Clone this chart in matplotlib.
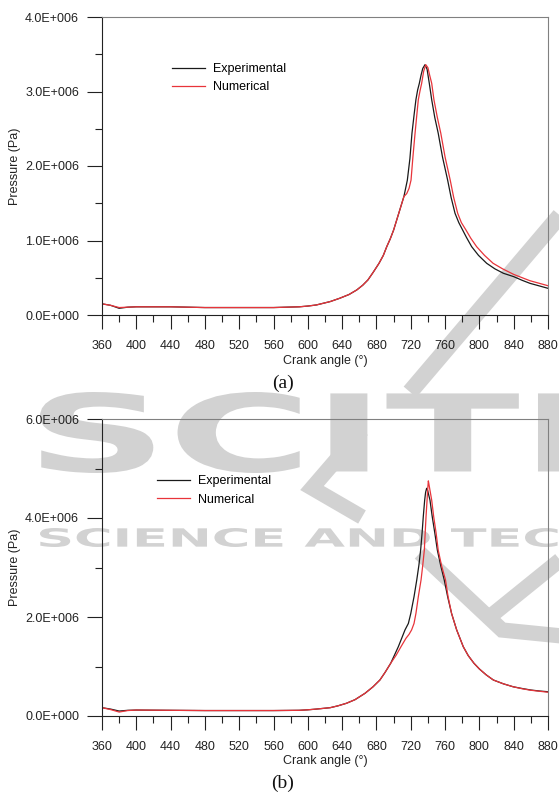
import numpy as np
import matplotlib
matplotlib.use('Agg')
import matplotlib.pyplot as plt
from matplotlib.ticker import MultipleLocator, FuncFormatter
from matplotlib.textpath import TextPath
from matplotlib.font_manager import FontProperties
from matplotlib.patches import PathPatch
from matplotlib.transforms import Affine2D
from matplotlib.lines import Line2D

# cylinder pressure (MPa) against crank angle (deg), case (a)
ang_a_exp = [360, 370, 380, 390, 400, 440, 480, 520, 560, 590, 600, 610, 626, 637, 648,
             657, 664, 670, 676, 683, 688, 692, 696, 700, 706, 712, 716, 719, 721.4, 724,
             726, 728, 730, 732, 734, 736.6, 739, 741.6, 744.4, 748, 752, 757, 763, 767,
             771.6, 776, 780.5, 785, 791, 799, 808.5, 818, 828, 840, 850, 859, 870, 880]
p_a_exp = [0.15, 0.13, 0.09, 0.105, 0.11, 0.11, 0.10, 0.10, 0.10, 0.11, 0.12, 0.135, 0.18,
           0.224, 0.275, 0.336, 0.40, 0.47, 0.57, 0.694, 0.80, 0.917, 1.02, 1.14, 1.365,
           1.59, 1.81, 2.10, 2.44, 2.70, 2.89, 3.02, 3.11, 3.22, 3.31, 3.36, 3.30, 3.11,
           2.89, 2.65, 2.44, 2.12, 1.81, 1.58, 1.365, 1.24, 1.14, 1.04, 0.917, 0.80, 0.694,
           0.62, 0.56, 0.515, 0.465, 0.425, 0.39, 0.358]
ang_a_num = [360, 370, 380, 390, 400, 440, 480, 520, 560, 590, 600, 610, 626, 637, 648,
             657, 664, 670, 676, 683, 688, 692, 696, 700, 706, 712, 715.3, 718, 720.3,
             722.5, 725, 727, 728.8, 730.8, 732.7, 735, 737.5, 740, 742, 744.4, 747, 751,
             755, 760, 766, 770, 774.7, 779, 784.4, 790, 796.8, 806, 816, 827, 840, 850,
             859, 870, 880]
p_a_num = [0.15, 0.13, 0.10, 0.105, 0.11, 0.11, 0.10, 0.10, 0.10, 0.11, 0.12, 0.135, 0.18,
           0.224, 0.275, 0.336, 0.40, 0.47, 0.57, 0.694, 0.80, 0.917, 1.02, 1.14, 1.365,
           1.59, 1.63, 1.70, 1.81, 2.12, 2.44, 2.68, 2.89, 3.01, 3.11, 3.27, 3.36, 3.32,
           3.22, 3.11, 2.89, 2.65, 2.44, 2.12, 1.81, 1.58, 1.365, 1.24, 1.14, 1.03, 0.917,
           0.80, 0.694, 0.62, 0.545, 0.50, 0.46, 0.425, 0.393]

# case (b)
ang_b_exp = [360, 370, 380, 390, 400, 440, 480, 520, 560, 590, 600, 610, 626, 635, 645,
             655, 666.6, 676, 684, 690, 696.6, 701, 705.5, 709.4, 713.3, 717.2, 720, 722,
             723.8, 727, 729.5, 731.5, 733.2, 734.6, 736.2, 737.3, 738.5, 739.8, 741,
             742.4, 745, 748, 751, 755, 759, 763, 767.6, 773.5, 781.2, 787, 793.7, 800,
             808, 816.3, 828, 839.5, 850, 860, 870, 880]
p_b_exp = [0.168, 0.14, 0.10, 0.115, 0.12, 0.115, 0.11, 0.11, 0.11, 0.115, 0.125, 0.14,
           0.168, 0.205, 0.257, 0.33, 0.458, 0.59, 0.727, 0.88, 1.065, 1.23, 1.40, 1.57,
           1.74, 1.87, 2.07, 2.25, 2.41, 2.75, 3.05, 3.35, 3.70, 4.03, 4.36, 4.52, 4.60,
           4.55, 4.46, 4.36, 4.03, 3.70, 3.35, 3.03, 2.75, 2.41, 2.07, 1.74, 1.40, 1.22,
           1.065, 0.95, 0.83, 0.727, 0.65, 0.59, 0.555, 0.525, 0.505, 0.49]
ang_b_num = [360, 370, 380, 390, 400, 440, 480, 520, 560, 590, 600, 610, 626, 635, 645,
             655, 666.6, 676, 684, 690, 696.6, 703, 708.6, 714.4, 718, 721, 723.8, 726,
             727.5, 728.8, 732, 734, 735.8, 736.8, 737.8, 739, 739.8, 740.5, 741.2, 742,
             744.4, 746.7, 749.5, 752, 756, 760.5, 763.5, 767.6, 773.5, 781.2, 787, 793.7,
             800, 808, 816.3, 828, 839.5, 850, 860, 870, 880]
p_b_num = [0.168, 0.13, 0.08, 0.11, 0.12, 0.115, 0.11, 0.11, 0.11, 0.115, 0.125, 0.14,
           0.168, 0.205, 0.257, 0.33, 0.458, 0.59, 0.727, 0.88, 1.065, 1.23, 1.40, 1.57,
           1.65, 1.74, 1.87, 2.07, 2.25, 2.41, 2.75, 3.05, 3.35, 3.70, 4.03, 4.36, 4.60,
           4.75, 4.68, 4.60, 4.36, 4.03, 3.70, 3.35, 3.03, 2.75, 2.41, 2.07, 1.74, 1.40,
           1.22, 1.065, 0.95, 0.83, 0.727, 0.65, 0.59, 0.55, 0.52, 0.50, 0.48]

series_names = ['Experimental', 'Numerical']
panel_tags = ['(a)', '(b)']
x_ticks = list(range(360, 881, 40))

W, H = 559, 796
sans = 'Liberation Sans'
fig = plt.figure(figsize=(W / 100, H / 100), dpi=100)

def px(x, y):                       # pixel position -> figure fraction
    return x / W, 1 - y / H

# faint publisher stamp behind the plots
grey = '#d2d2d2'
def stamp(txt, x0, x1, ytop, ybot, weight):
    tp = TextPath((0, 0), txt, size=1, prop=FontProperties(family='DejaVu Sans', weight=weight))
    bb = tp.get_extents()
    tr = (Affine2D().translate(-bb.x0, -bb.y0)
          .scale((x1 - x0) / bb.width / W, (ybot - ytop) / bb.height / H)
          .translate(x0 / W, 1 - ybot / H) + fig.transFigure)
    fig.add_artist(PathPatch(tp, transform=tr, fc=grey, ec='none', zorder=-5))

def stroke(pts, lw):
    xs, ys = zip(*[px(*p) for p in pts])
    fig.add_artist(Line2D(xs, ys, transform=fig.transFigure, color=grey, lw=lw,
                          solid_capstyle='butt', solid_joinstyle='miter', zorder=-5))

stamp('SCITE', 40, 640, 392, 473, 'bold')
stamp('SCIENCE AND TECH', 40, 600, 528, 547, 'bold')
stroke([(563, 212), (410, 392)], 12)
stroke([(362, 430), (312, 488), (362, 517)], 11)
stroke([(420, 553), (502, 630), (562, 636)], 11)
stroke([(565, 556), (492, 615)], 11)

def sci(v, pos):
    if v == 0:
        return '0.0E+000'
    e = int(np.floor(np.log10(abs(v))))
    return f'{v / 10**e:.1f}E+{e:03d}'

def panel(rect, xe, ye, xn, yn, ymax, ymaj, leg_xy, tag, tag_y, xlab_y):
    ax = fig.add_axes(rect, facecolor='none')
    ax.plot(xe, np.array(ye) * 1e6, color='#1a1a1a', lw=0.9, label=series_names[0])
    ax.plot(xn, np.array(yn) * 1e6, color='#e8343a', lw=0.9, label=series_names[1])
    ax.set_xlim(360, 880)
    ax.set_ylim(0, ymax)
    ax.set_xticks(x_ticks)
    ax.xaxis.set_minor_locator(MultipleLocator(20))
    ax.yaxis.set_major_locator(MultipleLocator(ymaj))
    ax.yaxis.set_minor_locator(MultipleLocator(ymaj / 2))
    ax.yaxis.set_major_formatter(FuncFormatter(sci))
    ax.tick_params(which='both', direction='out', width=0.8, labelsize=9, colors='#222222')
    ax.tick_params(axis='x', which='major', length=10, pad=8)
    ax.tick_params(axis='x', which='minor', length=5)
    ax.tick_params(axis='y', which='major', length=11, pad=5.5)
    ax.tick_params(axis='y', which='minor', length=5)
    for lab in ax.get_xticklabels() + ax.get_yticklabels():
        lab.set_family(sans)
    for s in ['top', 'right']:
        ax.spines[s].set_color('#808080')
        ax.spines[s].set_linewidth(0.8)
    for s in ['left', 'bottom']:
        ax.spines[s].set_color('#222222')
        ax.spines[s].set_linewidth(0.8)
    ax.set_xlabel('Crank angle (°)', family=sans, fontsize=9, color='#222222')
    ax.set_ylabel('Pressure (Pa)', family=sans, fontsize=9, color='#222222')
    ax.xaxis.set_label_coords(0.5, xlab_y)
    ax.yaxis.set_label_coords(-0.182, 0.5)
    ax.legend(loc='upper left', bbox_to_anchor=leg_xy, frameon=False, borderpad=0,
              borderaxespad=0, handlelength=2.65, handletextpad=0.65, labelspacing=0.5,
              prop={'family': sans, 'size': 9})
    fig.text(0.506, tag_y, tag, family='Liberation Serif', fontsize=14,
             ha='center', va='center', color='#111111')
    return ax

panel([102 / W, 1 - 315 / H, 446 / W, 298 / H], ang_a_exp, p_a_exp, ang_a_num, p_a_num,
      4e6, 1e6, (0.157, 0.845), panel_tags[0], 1 - 383 / H, -0.135)
panel([102 / W, 1 - 716 / H, 446 / W, 297 / H], ang_b_exp, p_b_exp, ang_b_num, p_b_num,
      6e6, 2e6, (0.123, 0.81), panel_tags[1], 1 - 783 / H, -0.132)

fig.savefig('out.png', dpi=100)
